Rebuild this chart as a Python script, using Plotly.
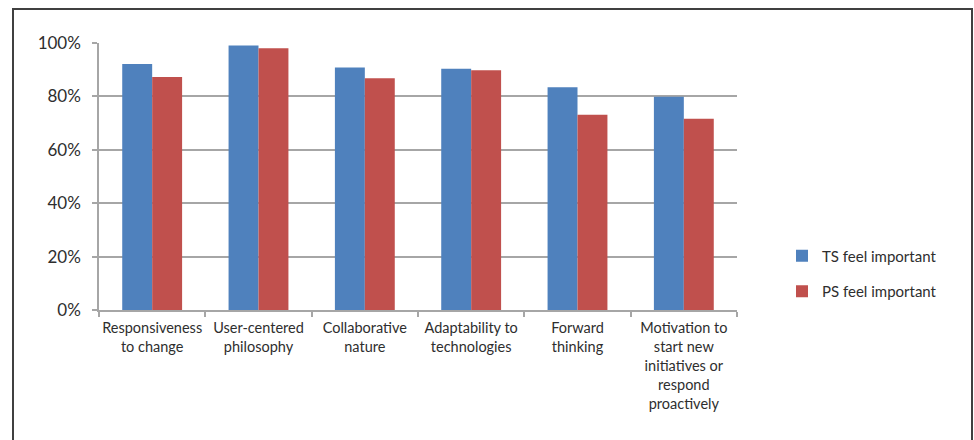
import plotly.graph_objects as go

categories = [
    "Responsiveness<br>to change",
    "User-centered<br>philosophy",
    "Collaborative<br>nature",
    "Adaptability to<br>technologies",
    "Forward<br>thinking",
    "Motivation to<br>start new<br>initiatives or<br>respond<br>proactively",
]
ts_important = [92.1, 99.1, 90.8, 90.4, 83.4, 79.9]
ps_important = [87.3, 98.0, 86.8, 89.8, 73.1, 71.6]
y_ticks = [0, 20, 40, 60, 80, 100]
y_tick_labels = [f"{v}%" for v in y_ticks]

FONT = "Lato, 'Open Sans', sans-serif"
TEXT = "#2e2e2e"
GRID = "#a6a6a6"

# plot area in pixels
W, H = 974, 440
L, R, T, B = 99, 737, 43, 310


def px_x(px):
    return (px - L) / (R - L)


def px_y(py):
    return (B - py) / (B - T)


fig = go.Figure()
fig.add_trace(go.Bar(x=categories, y=ts_important, name="TS feel important",
                     marker=dict(color="#4F81BD", line=dict(width=0)),
                     legendgroup="ts"))
fig.add_trace(go.Bar(x=categories, y=ps_important, name="PS feel important",
                     marker=dict(color="#C0504D", line=dict(width=0)),
                     legendgroup="ps"))

fig.update_layout(
    width=W, height=H,
    margin=dict(l=L, r=W - R, t=T, b=H - B, autoexpand=False),
    paper_bgcolor="white", plot_bgcolor="white",
    barmode="group", bargap=0.437, bargroupgap=0,
    font=dict(family=FONT, size=14, color=TEXT),
    showlegend=True,
    legend=dict(x=px_x(782), y=px_y(273.5), xanchor="left", yanchor="middle",
                font=dict(size=15, color=TEXT), tracegroupgap=13,
                itemwidth=30, bgcolor="rgba(0,0,0,0)"),
    xaxis=dict(showline=True, linecolor=GRID, linewidth=1.5,
               ticks="outside", tickson="boundaries", ticklen=5,
               tickcolor=GRID, tickwidth=1.5, showgrid=False,
               ticklabelstandoff=4,
               tickfont=dict(size=14.5, color=TEXT), tickangle=0),
    yaxis=dict(range=[0, 100], tickvals=y_ticks, ticktext=y_tick_labels,
               showline=True, linecolor=GRID, linewidth=1.5,
               ticks="outside", ticklen=5, tickcolor=GRID, tickwidth=1.5,
               showgrid=True, gridcolor=GRID, gridwidth=1.5,
               zeroline=False, ticklabelstandoff=8,
               tickfont=dict(size=17, color=TEXT)),
    shapes=[dict(type="rect", xref="paper", yref="paper",
                 x0=px_x(13), x1=px_x(972), y0=px_y(460), y1=px_y(9),
                 line=dict(color="#404040", width=2), layer="below")],
)

fig.write_html("out.html")
